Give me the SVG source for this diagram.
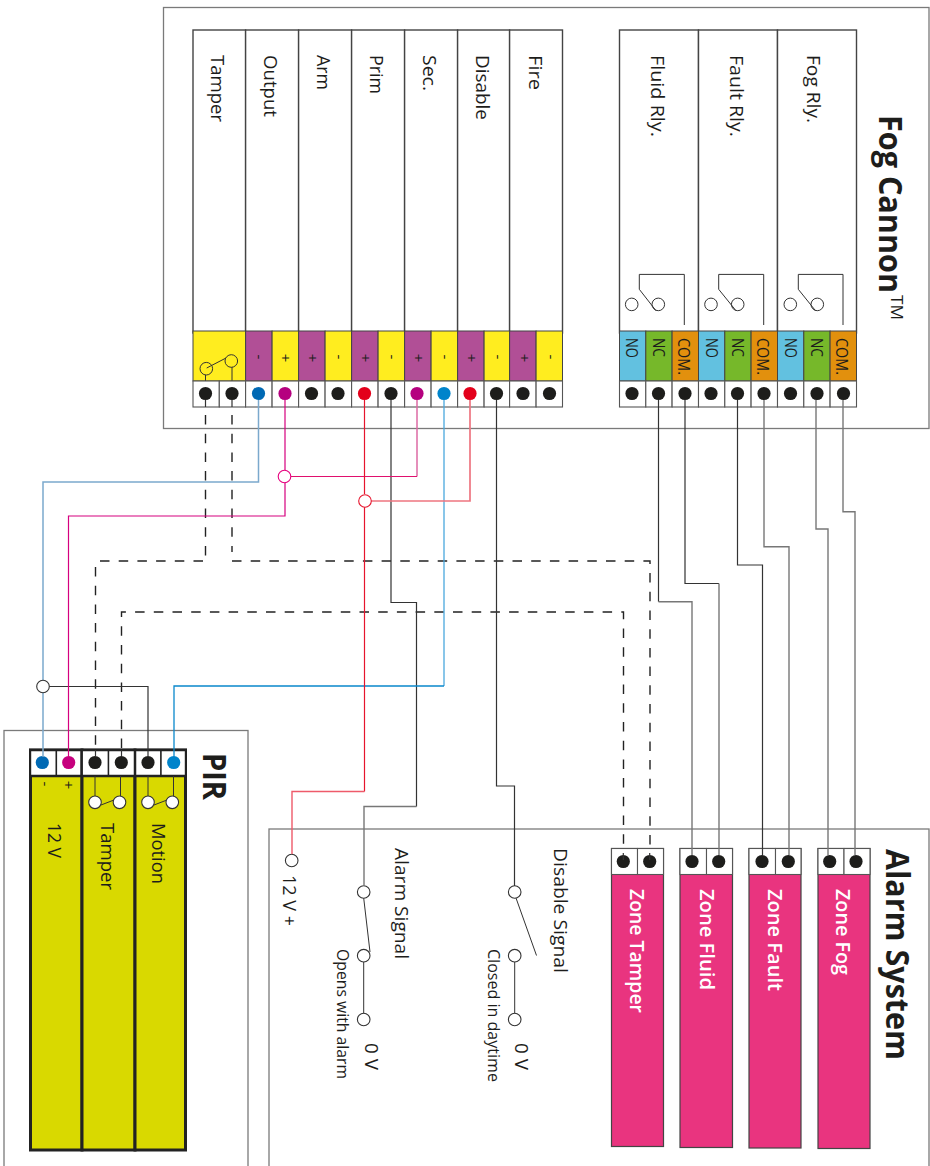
<svg xmlns="http://www.w3.org/2000/svg" width="930" height="1166" viewBox="0 0 930 1166">
<style>
text{font-family:"Open Sans","Noto Sans",sans-serif;fill:#1d1d1b}
.frame{fill:#fff;stroke:#7a7a7a;stroke-width:1.3}
.col{fill:#fff;stroke:#444;stroke-width:1.4}
.cell{stroke:#444;stroke-width:1}
.w{fill:#fff;stroke:#555;stroke-width:1.1}
.dot{fill:#1d1d1b}
.pir{fill:#d9d900;stroke:#222;stroke-width:3}
.pw{fill:#fff;stroke:#222;stroke-width:1.4}
.zone{fill:#e9347f;stroke:#444;stroke-width:1.2}
.wire{fill:none;stroke:#333;stroke-width:1.2}
.grey{fill:none;stroke:#777;stroke-width:1.4}
.dash{fill:none;stroke:#222;stroke-width:1.4;stroke-dasharray:9.500 9.200}
.ring{fill:#fff;stroke:#333;stroke-width:1.1}
.line{fill:none;stroke:#333;stroke-width:1}
.l{font-size:19px}
.s{font-size:17px}
.m{font-size:16px}
.h{font-size:33px;font-weight:700}
.z{font-size:19px;font-weight:600;fill:#fff}
.p{font-size:15px;text-anchor:middle}
</style>
<g id="fog-cannon">
<rect class="frame" x="163.500" y="7.500" width="765.500" height="421"/>
<text class="h" transform="translate(879,115) rotate(90)" textLength="178" lengthAdjust="spacingAndGlyphs">Fog Cannon</text>
<text transform="translate(891,295) rotate(90)" font-size="17" textLength="25" lengthAdjust="spacingAndGlyphs">TM</text>
<g id="panel-inputs">
<rect class="col" x="193" y="30" width="52.600" height="303"/>
<rect class="col" x="245.600" y="30" width="53" height="303"/>
<rect class="col" x="298.600" y="30" width="53" height="303"/>
<rect class="col" x="351.600" y="30" width="53" height="303"/>
<rect class="col" x="404.600" y="30" width="53" height="303"/>
<rect class="col" x="457.600" y="30" width="52" height="303"/>
<rect class="col" x="509.600" y="30" width="52.900" height="303"/>
<text class="l" transform="translate(211,55) rotate(90)" textLength="67" lengthAdjust="spacingAndGlyphs">Tamper</text>
<text class="l" transform="translate(263.500,55) rotate(90)" textLength="62" lengthAdjust="spacingAndGlyphs">Output</text>
<text class="l" transform="translate(316.500,55) rotate(90)" textLength="35" lengthAdjust="spacingAndGlyphs">Arm</text>
<text class="l" transform="translate(370,55) rotate(90)" textLength="39" lengthAdjust="spacingAndGlyphs">Prim</text>
<text class="l" transform="translate(422.500,55) rotate(90)" textLength="36" lengthAdjust="spacingAndGlyphs">Sec.</text>
<text class="l" transform="translate(476,55) rotate(90)" textLength="65" lengthAdjust="spacingAndGlyphs">Disable</text>
<text class="l" transform="translate(528.500,55) rotate(90)" textLength="35" lengthAdjust="spacingAndGlyphs">Fire</text>
<rect class="cell" x="193" y="331" width="52.600" height="50" fill="#ffed1f"/>
<rect class="cell" x="245.600" y="331" width="26.500" height="50" fill="#b14f96"/>
<rect class="cell" x="272.100" y="331" width="26.500" height="50" fill="#ffed1f"/>
<rect class="cell" x="298.600" y="331" width="26.500" height="50" fill="#b14f96"/>
<rect class="cell" x="325.100" y="331" width="26.500" height="50" fill="#ffed1f"/>
<rect class="cell" x="351.600" y="331" width="26.500" height="50" fill="#b14f96"/>
<rect class="cell" x="378.100" y="331" width="26.500" height="50" fill="#ffed1f"/>
<rect class="cell" x="404.600" y="331" width="26.500" height="50" fill="#b14f96"/>
<rect class="cell" x="431.100" y="331" width="26.500" height="50" fill="#ffed1f"/>
<rect class="cell" x="457.600" y="331" width="26.500" height="50" fill="#b14f96"/>
<rect class="cell" x="484.100" y="331" width="25.500" height="50" fill="#ffed1f"/>
<rect class="cell" x="509.600" y="331" width="26.500" height="50" fill="#b14f96"/>
<rect class="cell" x="536.100" y="331" width="26.400" height="50" fill="#ffed1f"/>
<g>
<text class="p" transform="translate(254,357) rotate(90)">-</text><text class="p" transform="translate(280,358) rotate(90)">+</text>
<text class="p" transform="translate(307,358) rotate(90)">+</text><text class="p" transform="translate(334,357) rotate(90)">-</text>
<text class="p" transform="translate(360,358) rotate(90)">+</text><text class="p" transform="translate(387,357) rotate(90)">-</text>
<text class="p" transform="translate(413,358) rotate(90)">+</text><text class="p" transform="translate(440,357) rotate(90)">-</text>
<text class="p" transform="translate(466,358) rotate(90)">+</text><text class="p" transform="translate(493,357) rotate(90)">-</text>
<text class="p" transform="translate(519,358) rotate(90)">+</text><text class="p" transform="translate(546,357) rotate(90)">-</text>
</g>
<circle class="line" cx="206.300" cy="368.700" r="6.300"/><circle class="line" cx="231.300" cy="361" r="6.300"/>
<path class="line" d="M206.700 368L226 358M205.500 375V381M232 367V381"/>
<rect class="w" x="193" y="381" width="26.300" height="26"/><rect class="w" x="219.300" y="381" width="26.300" height="26"/>
<rect class="w" x="245.600" y="381" width="26.500" height="26"/><rect class="w" x="272.100" y="381" width="26.500" height="26"/>
<rect class="w" x="298.600" y="381" width="26.500" height="26"/><rect class="w" x="325.100" y="381" width="26.500" height="26"/>
<rect class="w" x="351.600" y="381" width="26.500" height="26"/><rect class="w" x="378.100" y="381" width="26.500" height="26"/>
<rect class="w" x="404.600" y="381" width="26.500" height="26"/><rect class="w" x="431.100" y="381" width="26.500" height="26"/>
<rect class="w" x="457.600" y="381" width="26.500" height="26"/><rect class="w" x="484.100" y="381" width="25.500" height="26"/>
<rect class="w" x="509.600" y="381" width="26.500" height="26"/><rect class="w" x="536.100" y="381" width="26.400" height="26"/>
<circle class="dot" cx="205.500" cy="393.500" r="6.600"/><circle class="dot" cx="232" cy="393.500" r="6.600"/>
<circle cx="258.500" cy="393.500" r="6.600" fill="#0069b4"/><circle cx="285" cy="393.500" r="6.600" fill="#b5007f"/>
<circle class="dot" cx="311.500" cy="393.500" r="6.600"/><circle class="dot" cx="338" cy="393.500" r="6.600"/>
<circle cx="364.500" cy="393.500" r="6.600" fill="#e3001b"/><circle class="dot" cx="391" cy="393.500" r="6.600"/>
<circle cx="417" cy="393.500" r="6.600" fill="#b5007f"/><circle cx="444" cy="393.500" r="6.600" fill="#0084cb"/>
<circle cx="470" cy="393.500" r="6.600" fill="#e3001b"/><circle class="dot" cx="496.500" cy="393.500" r="6.600"/>
<circle class="dot" cx="523" cy="393.500" r="6.600"/><circle class="dot" cx="549.500" cy="393.500" r="6.600"/>
</g>
<g id="panel-relays">
<rect class="col" x="619.500" y="30" width="79" height="303"/>
<rect class="col" x="698.500" y="30" width="79" height="303"/>
<rect class="col" x="777.500" y="30" width="79" height="303"/>
<text class="l" transform="translate(650.500,55) rotate(90)" textLength="82" lengthAdjust="spacingAndGlyphs">Fluid Rly.</text>
<text class="l" transform="translate(729.500,55) rotate(90)" textLength="82" lengthAdjust="spacingAndGlyphs">Fault Rly.</text>
<text class="l" transform="translate(807,55) rotate(90)" textLength="68" lengthAdjust="spacingAndGlyphs">Fog Rly.</text>
<g id="relay-glyphs">
<g id="rl1"><circle class="line" cx="631.700" cy="304.400" r="6.300"/><circle class="line" cx="658.300" cy="304.400" r="6.300"/><path class="line" d="M684.300 325V274.400H639.300V289.300L656 310.700"/></g>
<g id="rl2"><circle class="line" cx="711" cy="304.400" r="6.300"/><circle class="line" cx="737.700" cy="304.400" r="6.300"/><path class="line" d="M763.700 325V274.400H718.700V289.300L736 310.700"/></g>
<g id="rl3"><circle class="line" cx="790.300" cy="304.400" r="6.300"/><circle class="line" cx="817.300" cy="304.400" r="6.300"/><path class="line" d="M843 325V274.400H798.300V289.300L815.500 310.700"/></g>
</g>
<rect class="cell" x="619.500" y="331" width="26.300" height="50" fill="#62c1e0"/><rect class="cell" x="645.800" y="331" width="26.300" height="50" fill="#76b82a"/><rect class="cell" x="672.100" y="331" width="26.400" height="50" fill="#e2900d"/>
<rect class="cell" x="698.500" y="331" width="26.300" height="50" fill="#62c1e0"/><rect class="cell" x="724.800" y="331" width="26.300" height="50" fill="#76b82a"/><rect class="cell" x="751.100" y="331" width="26.400" height="50" fill="#e2900d"/>
<rect class="cell" x="777.500" y="331" width="26.300" height="50" fill="#62c1e0"/><rect class="cell" x="803.800" y="331" width="26.300" height="50" fill="#76b82a"/><rect class="cell" x="830.100" y="331" width="26.400" height="50" fill="#e2900d"/>
<g>
<text class="s" transform="translate(626,338) rotate(90)" textLength="20" lengthAdjust="spacingAndGlyphs">NO</text><text class="s" transform="translate(652.500,338) rotate(90)" textLength="19" lengthAdjust="spacingAndGlyphs">NC</text><text class="s" transform="translate(678,338) rotate(90)" textLength="37" lengthAdjust="spacingAndGlyphs">COM.</text>
<text class="s" transform="translate(705.500,338) rotate(90)" textLength="20" lengthAdjust="spacingAndGlyphs">NO</text><text class="s" transform="translate(732,338) rotate(90)" textLength="19" lengthAdjust="spacingAndGlyphs">NC</text><text class="s" transform="translate(757,338) rotate(90)" textLength="37" lengthAdjust="spacingAndGlyphs">COM.</text>
<text class="s" transform="translate(784.500,338) rotate(90)" textLength="20" lengthAdjust="spacingAndGlyphs">NO</text><text class="s" transform="translate(811,338) rotate(90)" textLength="19" lengthAdjust="spacingAndGlyphs">NC</text><text class="s" transform="translate(836,338) rotate(90)" textLength="37" lengthAdjust="spacingAndGlyphs">COM.</text>
</g>
<rect class="w" x="619.500" y="381" width="26.300" height="26"/><rect class="w" x="645.800" y="381" width="26.300" height="26"/><rect class="w" x="672.100" y="381" width="26.400" height="26"/>
<rect class="w" x="698.500" y="381" width="26.300" height="26"/><rect class="w" x="724.800" y="381" width="26.300" height="26"/><rect class="w" x="751.100" y="381" width="26.400" height="26"/>
<rect class="w" x="777.500" y="381" width="26.300" height="26"/><rect class="w" x="803.800" y="381" width="26.300" height="26"/><rect class="w" x="830.100" y="381" width="26.400" height="26"/>
<circle class="dot" cx="632" cy="393.500" r="6.600"/><circle class="dot" cx="658.500" cy="393.500" r="6.600"/><circle class="dot" cx="685" cy="393.500" r="6.600"/>
<circle class="dot" cx="711" cy="393.500" r="6.600"/><circle class="dot" cx="737.500" cy="393.500" r="6.600"/><circle class="dot" cx="764" cy="393.500" r="6.600"/>
<circle class="dot" cx="790.500" cy="393.500" r="6.600"/><circle class="dot" cx="817" cy="393.500" r="6.600"/><circle class="dot" cx="843.500" cy="393.500" r="6.600"/>
</g>
</g>
<g id="pir">
<rect class="frame" x="4" y="730.500" width="244" height="445"/>
<text class="h" transform="translate(203,753) rotate(90)" textLength="47" lengthAdjust="spacingAndGlyphs">PIR</text>
<rect class="pir" x="30.500" y="750" width="51.500" height="400"/>
<rect class="pir" x="82" y="750" width="53" height="400"/>
<rect class="pir" x="135" y="750" width="50.500" height="400"/>
<rect class="pw" x="30.500" y="750" width="25.900" height="26"/><rect class="pw" x="56.400" y="750" width="25.600" height="26"/>
<rect class="pw" x="82" y="750" width="26.500" height="26"/><rect class="pw" x="108.500" y="750" width="26.500" height="26"/>
<rect class="pw" x="135" y="750" width="26" height="26"/><rect class="pw" x="161" y="750" width="24.500" height="26"/>
<path d="M29 750H187M81.500 750V776M135 750V776M29 776H187" fill="none" stroke="#222" stroke-width="2.500"/>
<circle cx="42.300" cy="762.500" r="6.600" fill="#0069b4"/><circle cx="68.700" cy="762.500" r="6.600" fill="#c6007e"/>
<circle class="dot" cx="95" cy="762.500" r="6.600"/><circle class="dot" cx="121.300" cy="762.500" r="6.600"/>
<circle class="dot" cx="148" cy="762.500" r="6.600"/><circle cx="173.700" cy="762.500" r="6.600" fill="#0084cb"/>
<text class="p" transform="translate(40,784) rotate(90)">-</text><text class="p" transform="translate(63,785) rotate(90)">+</text>
<path class="line" d="M95 776V796M120.500 776V796M148 776V796M173.500 776V796M101 805L114 800M154 805L167 800"/>
<circle class="ring" cx="95" cy="802.300" r="6.300"/><circle class="ring" cx="119.500" cy="802.300" r="6.300"/>
<circle class="ring" cx="148" cy="802.300" r="6.300"/><circle class="ring" cx="172.300" cy="802.300" r="6.300"/>
<text class="l" transform="translate(48,823) rotate(90)" textLength="35" lengthAdjust="spacingAndGlyphs">12 V</text>
<text class="l" transform="translate(101,823) rotate(90)" textLength="67" lengthAdjust="spacingAndGlyphs">Tamper</text>
<text class="l" transform="translate(152,823) rotate(90)" textLength="61" lengthAdjust="spacingAndGlyphs">Motion</text>
</g>
<g id="alarm-system">
<rect class="frame" x="269" y="829" width="660" height="345"/>
<text class="h" transform="translate(886,849) rotate(90)" textLength="211" lengthAdjust="spacingAndGlyphs">Alarm System</text>
<rect class="zone" x="611.500" y="848.500" width="52" height="298"/>
<rect class="zone" x="680" y="848.500" width="52.500" height="299"/>
<rect class="zone" x="749" y="848.500" width="52" height="299.500"/>
<rect class="zone" x="818" y="848.500" width="52" height="300"/>
<g id="zone-terminals">
<rect class="w" x="611.500" y="848.500" width="26" height="26"/><rect class="w" x="637.500" y="848.500" width="26" height="26"/>
<rect class="w" x="680" y="848.500" width="26.500" height="26"/><rect class="w" x="706.500" y="848.500" width="26" height="26"/>
<rect class="w" x="749" y="848.500" width="26.500" height="26"/><rect class="w" x="775.500" y="848.500" width="25.500" height="26"/>
<rect class="w" x="818" y="848.500" width="26" height="26"/><rect class="w" x="844" y="848.500" width="26" height="26"/>
<circle class="dot" cx="623.300" cy="861.500" r="6.600"/><circle class="dot" cx="649.700" cy="861.500" r="6.600"/>
<circle class="dot" cx="692" cy="861.500" r="6.600"/><circle class="dot" cx="718.700" cy="861.500" r="6.600"/>
<circle class="dot" cx="762" cy="861.500" r="6.600"/><circle class="dot" cx="788.300" cy="861.500" r="6.600"/>
<circle class="dot" cx="829.700" cy="861.500" r="6.600"/><circle class="dot" cx="856" cy="861.500" r="6.600"/>
</g>
<g>
<text class="z" transform="translate(630,889) rotate(90)" textLength="124" lengthAdjust="spacingAndGlyphs">Zone Tamper</text>
<text class="z" transform="translate(700,889) rotate(90)" textLength="101" lengthAdjust="spacingAndGlyphs">Zone Fluid</text>
<text class="z" transform="translate(768,889) rotate(90)" textLength="102" lengthAdjust="spacingAndGlyphs">Zone Fault</text>
<text class="z" transform="translate(836,889) rotate(90)" textLength="86" lengthAdjust="spacingAndGlyphs">Zone Fog</text>
</g>
<text class="l" transform="translate(282.500,875) rotate(90)" textLength="51" lengthAdjust="spacingAndGlyphs">12 V +</text>
<circle class="ring" cx="291.700" cy="860.500" r="6.300"/>
<g id="alarm-signal">
<text class="l" transform="translate(395,848) rotate(90)" textLength="111" lengthAdjust="spacingAndGlyphs">Alarm Signal</text>
<text class="m" transform="translate(337,949) rotate(90)" textLength="130" lengthAdjust="spacingAndGlyphs">Opens with alarm</text>
<text class="l" transform="translate(364.500,1043) rotate(90)" textLength="27" lengthAdjust="spacingAndGlyphs">0 V</text>
<path class="line" d="M363.700 898L370 952M363.700 955V1019"/>
<circle class="ring" cx="363.700" cy="892" r="6.300"/><circle class="ring" cx="363.700" cy="955.700" r="6.300"/><circle class="ring" cx="363.700" cy="1019.500" r="6.300"/>
</g>
<g id="disable-signal">
<text class="l" transform="translate(553.500,848) rotate(90)" textLength="125" lengthAdjust="spacingAndGlyphs">Disable Signal</text>
<text class="m" transform="translate(487.500,949) rotate(90)" textLength="133" lengthAdjust="spacingAndGlyphs">Closed in daytime</text>
<text class="l" transform="translate(515,1043) rotate(90)" textLength="27" lengthAdjust="spacingAndGlyphs">0 V</text>
<path class="line" d="M516 898L536.500 955.500M514.700 955V1019"/>
<circle class="ring" cx="514.700" cy="892" r="6.300"/><circle class="ring" cx="514.700" cy="955.700" r="6.300"/><circle class="ring" cx="514.700" cy="1019.500" r="6.300"/>
</g>
</g>
<g id="connectors">
<path class="dash" d="M205.500 415V556M100 561H204M95.500 567V745"/>
<path class="dash" d="M232 415V552M232 561H650V848"/>
<path class="dash" d="M121.500 748V612H623.500V848"/>
<path class="wire" d="M205.500 400V407M232 400V407M95.500 750V756M121.500 750V756M623.300 853V860M649.700 853V860"/>
<path class="wire" d="M391 400V602.500H416.500V806.500"/>
<path class="grey" d="M416.500 806.500H364V886"/>
<path class="wire" d="M496.500 400V786H514.500V886"/>
<path class="wire" d="M148 757V686.500H49"/>
<path class="wire" style="stroke:#7ba9cd;stroke-width:1.500" d="M258.500 400V482H43V757"/>
<path class="wire" style="stroke:#d6007f" d="M285 400V470M285 482V516H68.500V757"/>
<path class="wire" style="stroke:#dc6aa5;stroke-width:1.500" d="M417 400V476.500"/>
<path class="wire" style="stroke:#e0106e" d="M291 476.500H417"/>
<path class="wire" style="stroke:#4aa8de;stroke-width:1.300" d="M444 400V686"/>
<path class="wire" style="stroke:#0a88cc;stroke-width:1.300" d="M444 686H174V757"/>
<path class="wire" style="stroke:#e6142d" d="M364.500 400V494M364.500 507V791.500"/>
<path class="wire" style="stroke:#ee5a6a;stroke-width:1.400" d="M364.500 791.500H292V854"/>
<path class="wire" style="stroke:#ee7580;stroke-width:1.700" d="M371 501H470V400"/>
<path class="wire" d="M658.500 400V601.700"/>
<path class="grey" d="M658.500 601.700H692V855"/>
<path class="wire" d="M685 400V583.500H719"/>
<path class="grey" d="M719 583.500V855"/>
<path class="wire" d="M737.500 400V565H762.500V855"/>
<path class="grey" d="M764 400V546.700H789V855"/>
<path class="grey" d="M816 400V529H828V855"/>
<path class="grey" d="M843 400V511.700H855V855"/>
<circle class="ring" style="stroke:#e6007e" cx="284.500" cy="476.500" r="6.300"/>
<circle class="ring" style="stroke:#e6142d" cx="365" cy="501" r="6.300"/>
<circle class="ring" cx="43" cy="686.500" r="6.300"/>
</g>
</svg>
